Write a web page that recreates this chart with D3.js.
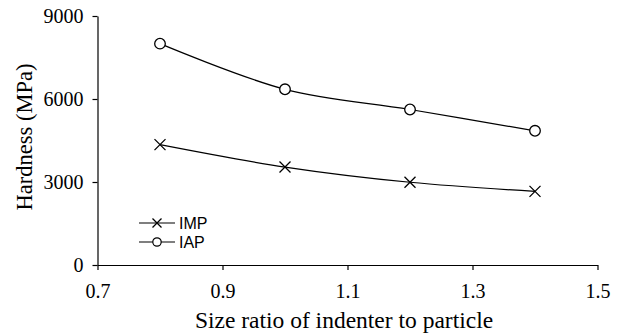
<!DOCTYPE html>
<html>
<head>
<meta charset="utf-8">
<script src="https://cdn.jsdelivr.net/npm/d3@7"></script>
<style>
body { margin: 0; background: #fff; }
svg { display: block; }
</style>
</head>
<body>
<svg width="628" height="333"></svg>
<script>
// dati
var ratios = [0.8, 1.0, 1.2, 1.4];
var imp = [4350, 3540, 2990, 2660];
var iap = [8000, 6350, 5620, 4850];
var xTicks = [0.7, 0.9, 1.1, 1.3, 1.5];
var yTicks = [0, 3000, 6000, 9000];

var svg = d3.select("svg");

var x = d3.scaleLinear().domain([0.7, 1.5]).range([97.5, 597.5]);
var y = d3.scaleLinear().domain([0, 9000]).range([265, 16]);

var serif = "'Liberation Serif', 'Times New Roman', serif";
var sans = "'Liberation Sans', Arial, sans-serif";

// asse x
var gx = svg.append("g")
  .attr("transform", "translate(0,265)")
  .call(d3.axisBottom(x).tickValues(xTicks).tickSize(5).tickSizeOuter(0).tickFormat(d3.format(".1f")));
gx.selectAll("text").attr("font-family", serif).attr("font-size", 20).attr("y", 0).attr("dy", 0)
  .attr("transform", "translate(0,33)").attr("fill", "#000");

// asse y
var gy = svg.append("g")
  .attr("transform", "translate(97.5,0)")
  .call(d3.axisLeft(y).tickValues(yTicks).tickSize(5).tickSizeOuter(0).tickFormat(d3.format("d")));
gy.selectAll("text").attr("font-family", serif).attr("font-size", 20).attr("x", -14).attr("fill", "#000");

svg.selectAll(".domain, .tick line").attr("stroke", "#000").attr("stroke-width", 1.2);

// titoli assi
svg.append("text")
  .attr("x", 344).attr("y", 328)
  .attr("text-anchor", "middle")
  .attr("font-family", serif).attr("font-size", 23.5)
  .text("Size ratio of indenter to particle");

svg.append("text")
  .attr("transform", "translate(32,137) rotate(-90)")
  .attr("text-anchor", "middle")
  .attr("font-family", serif).attr("font-size", 22.5)
  .text("Hardness (MPa)");

// linee smussate
var line = d3.line()
  .x(function(d) { return x(d[0]); })
  .y(function(d) { return y(d[1]); })
  .curve(d3.curveCatmullRom.alpha(0.5));

function serie(vals) {
  return ratios.map(function(r, i) { return [r, vals[i]]; });
}

[imp, iap].forEach(function(vals) {
  svg.append("path")
    .datum(serie(vals))
    .attr("d", line)
    .attr("fill", "none")
    .attr("stroke", "#000")
    .attr("stroke-width", 1.2);
});

function cross(g, cx, cy, s) {
  g.append("path")
    .attr("d", "M" + (cx - s) + "," + (cy - s) + "L" + (cx + s) + "," + (cy + s) +
               "M" + (cx - s) + "," + (cy + s) + "L" + (cx + s) + "," + (cy - s))
    .attr("stroke", "#000").attr("stroke-width", 1.3).attr("fill", "none");
}

var gm = svg.append("g");
serie(imp).forEach(function(d) { cross(gm, x(d[0]), y(d[1]), 5.5); });

gm.selectAll("circle.iap")
  .data(serie(iap))
  .enter().append("circle")
  .attr("cx", function(d) { return x(d[0]); })
  .attr("cy", function(d) { return y(d[1]); })
  .attr("r", 5.3)
  .attr("fill", "#fff")
  .attr("stroke", "#000")
  .attr("stroke-width", 1.3);

// legenda
var leg = svg.append("g");
leg.append("line").attr("x1", 139).attr("x2", 175).attr("y1", 223).attr("y2", 223).attr("stroke", "#000").attr("stroke-width", 1.2);
cross(leg, 157, 223, 4.5);
leg.append("text").attr("x", 179).attr("y", 228.5).attr("font-family", sans).attr("font-size", 16).text("IMP");

leg.append("line").attr("x1", 139).attr("x2", 175).attr("y1", 242).attr("y2", 242).attr("stroke", "#000").attr("stroke-width", 1.2);
leg.append("circle").attr("cx", 157).attr("cy", 242).attr("r", 4.2).attr("fill", "#fff").attr("stroke", "#000").attr("stroke-width", 1.2);
leg.append("text").attr("x", 179).attr("y", 247.5).attr("font-family", sans).attr("font-size", 16).text("IAP");
</script>
</body>
</html>
